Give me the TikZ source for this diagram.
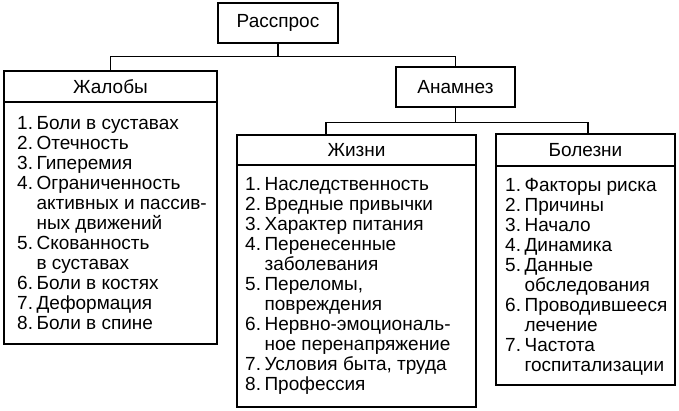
\documentclass[tikz,border=0pt]{standalone}
\usepackage{fontspec}
\setmainfont{Liberation Sans}
\newcommand\lstitem[2]{\makebox[1.02em][l]{#1.}#2}
\newcommand\lstcont[1]{\hspace*{1.02em}#1}
\newcommand\firstline{\rule{0pt}{14pt}}
\begin{document}
\begin{tikzpicture}[x=1pt,y=-1pt,
  box/.style={draw, line width=1.1pt, inner sep=0pt},
  ttl/.style={font=\fontsize{19}{20}\selectfont},
  lst/.style={font=\fontsize{19}{20}\selectfont, align=left, inner sep=0pt, anchor=north west},
  conn/.style={line width=1.1pt}]
\useasboundingbox (0,0) rectangle (679,411);
% top level
\node[box, minimum width=120pt, minimum height=40pt] (ras) at (278,23) {};
\node[ttl] (rast) at (ras.center) {Расспрос};
% Жалобы
\node[box, minimum width=213pt, minimum height=273pt] (zhal) at (110.5,207.5) {};
\coordinate (zd) at (0,102);
\draw[conn] (zhal.west |- zd) -- (zhal.east |- zd);
\node[ttl] (zhalt) at (110.5,86.5) {Жалобы};
\node[lst] (zhall) at (17,115.5) {\firstline\lstitem{1}{Боли в суставах}\\
\lstitem{2}{Отечность}\\
\lstitem{3}{Гиперемия}\\
\lstitem{4}{Ограниченность}\\
\lstcont{активных и пассив-}\\
\lstcont{ных движений}\\
\lstitem{5}{Скованность}\\
\lstcont{в суставах}\\
\lstitem{6}{Боли в костях}\\
\lstitem{7}{Деформация}\\
\lstitem{8}{Боли в спине}};
% Анамнез
\node[box, minimum width=119pt, minimum height=40pt] (anam) at (455.5,87) {};
\node[ttl] (anamt) at (anam.center) {Анамнез};
% Жизни
\node[box, minimum width=239pt, minimum height=272pt] (zhiz) at (356.5,271) {};
\coordinate (zzd) at (0,165);
\draw[conn] (zhiz.west |- zzd) -- (zhiz.east |- zzd);
\node[ttl] (zhizt) at (356.5,150) {Жизни};
\node[lst] (zhizl) at (245,176.5) {\firstline\lstitem{1}{Наследственность}\\
\lstitem{2}{Вредные привычки}\\
\lstitem{3}{Характер питания}\\
\lstitem{4}{Перенесенные}\\
\lstcont{заболевания}\\
\lstitem{5}{Переломы,}\\
\lstcont{повреждения}\\
\lstitem{6}{Нервно-эмоциональ-}\\
\lstcont{ное перенапряжение}\\
\lstitem{7}{Условия быта, труда}\\
\lstitem{8}{Профессия}};
% Болезни
\node[box, minimum width=179pt, minimum height=251pt] (bol) at (585.5,259.5) {};
\coordinate (bd) at (0,166);
\draw[conn] (bol.west |- bd) -- (bol.east |- bd);
\node[ttl] (bolt) at (585.5,150) {Болезни};
\node[lst] (boll) at (505,177.5) {\firstline\lstitem{1}{Факторы риска}\\
\lstitem{2}{Причины}\\
\lstitem{3}{Начало}\\
\lstitem{4}{Динамика}\\
\lstitem{5}{Данные}\\
\lstcont{обследования}\\
\lstitem{6}{Проводившееся}\\
\lstcont{лечение}\\
\lstitem{7}{Частота}\\
\lstcont{госпитализации}};
% connectors
\draw[conn] (ras.south) -- ++(0,13) coordinate (j1);
\draw[conn] (zhal.north) |- (anam.north |- j1) -- (anam.north);
\draw[conn] (anam.south) -- ++(0,15) coordinate (j2);
\draw[conn] ([xshift=-30.5pt]zhiz.north) |- ([xshift=2.5pt]bol.north |- j2) -- ([xshift=2.5pt]bol.north);
\end{tikzpicture}
\end{document}
